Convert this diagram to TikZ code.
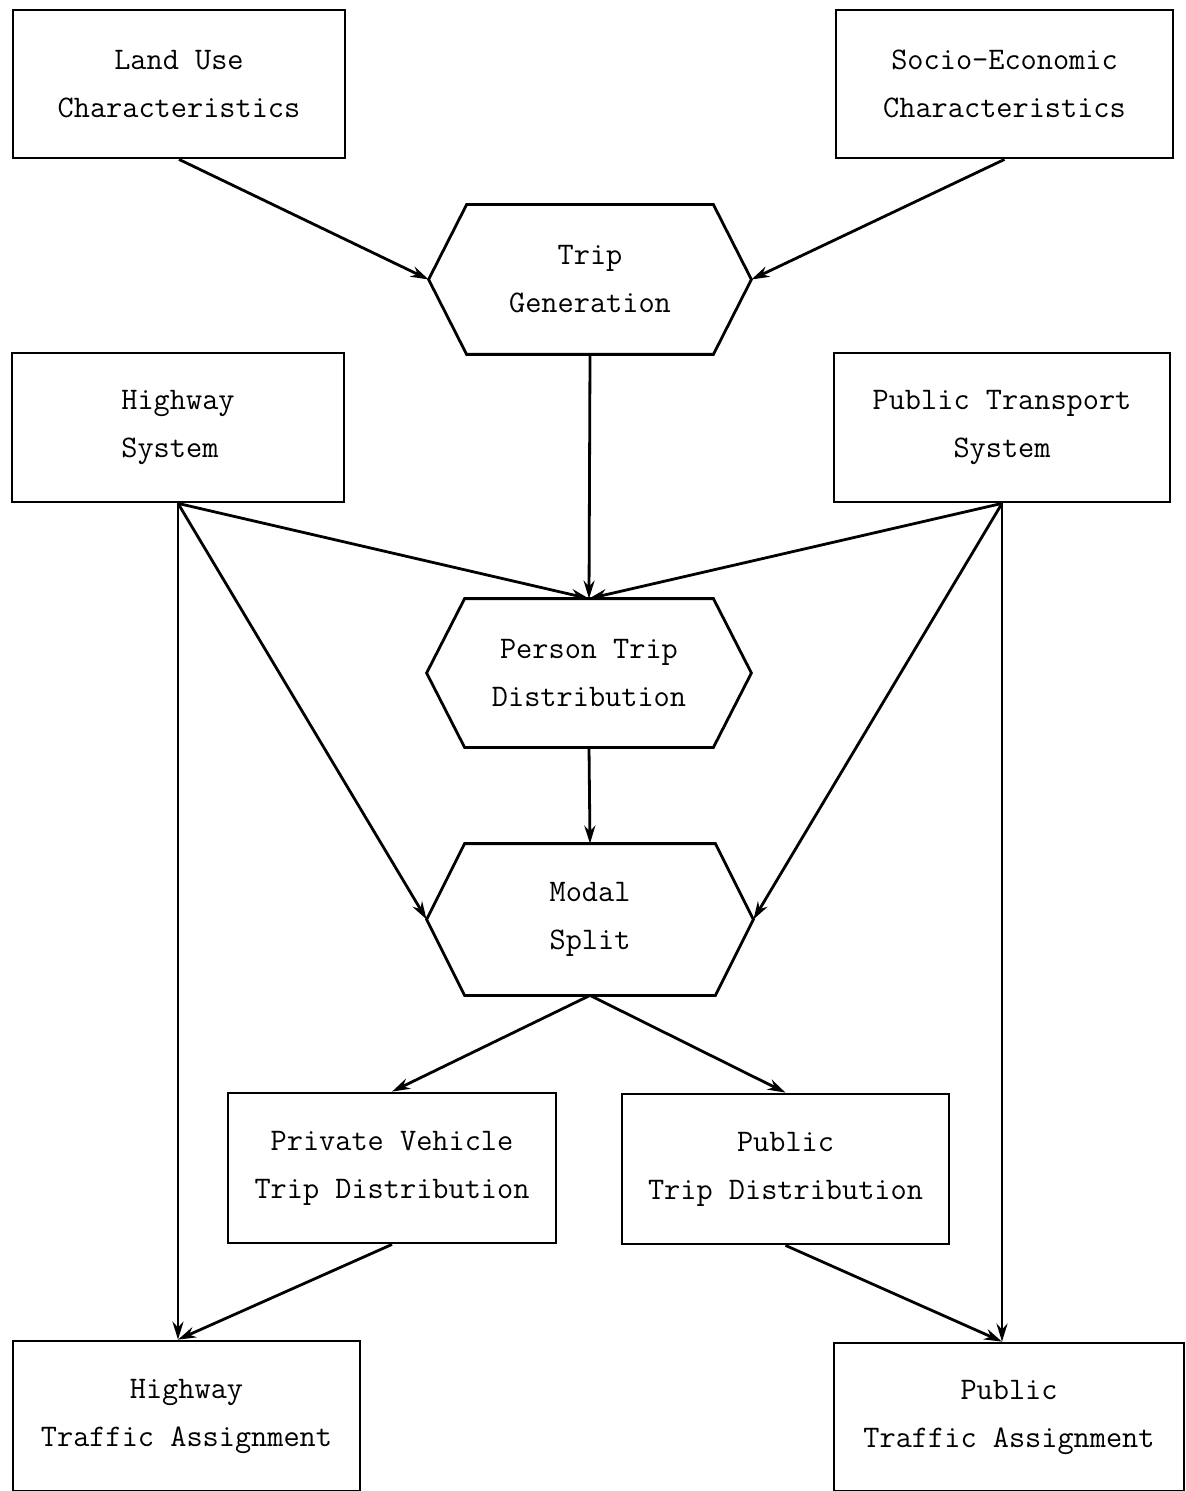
\documentclass[tikz,border=0pt]{standalone}
\usepackage{tikz}
\usetikzlibrary{arrows.meta}

\begin{document}
\begin{tikzpicture}[
   x=0.5pt, y=-0.5pt,
   line width=1.4pt,
   every node/.append style={align=center, font=\fontsize{15.7}{24}\selectfont\ttfamily},
   box/.style={draw, inner sep=0pt},
   hexbox/.style={inner sep=0pt},
   flow/.style={-{Stealth[length=9pt,width=5.5pt]}}
]
\useasboundingbox (0,0) rectangle (1186,1491);

% inputs
\node[box, minimum width=166pt, minimum height=74pt] (landuse) at (179,84) {Land Use\\Characteristics};
\node[box, minimum width=168.5pt, minimum height=74pt] (socio) at (1004.5,84) {Socio-Economic\\Characteristics};
\node[box, minimum width=166pt, minimum height=74.5pt, align=left] (highway) at (178,427.5) {Highway\\System};
\node[box, minimum width=168pt, minimum height=74.5pt] (publicsys) at (1002,427.5) {Public Transport\\System};

% model steps
\node[hexbox, minimum width=160pt, minimum height=73.5pt] (tripgen) at (590,279.5) {Trip\\Generation};
\node[hexbox, minimum width=161pt, minimum height=73pt] (persondist) at (589,673) {Person Trip\\Distribution};
\node[hexbox, minimum width=162pt, minimum height=74.5pt] (modal) at (590,919.5) {Modal\\Split};
\foreach \n in {tripgen,persondist,modal}
  \draw ([xshift=19pt]\n.north west) -- ([xshift=-19pt]\n.north east) -- (\n.east)
     -- ([xshift=-19pt]\n.south east) -- ([xshift=19pt]\n.south west) -- (\n.west) -- cycle;

\node[box, minimum width=164pt, minimum height=75pt] (privdist) at (392,1168) {Private Vehicle\\Trip Distribution};
\node[box, minimum width=163.5pt, minimum height=75pt] (pubdist) at (785.5,1169) {Public\\Trip Distribution};

% assignments
\node[box, minimum width=173.5pt, minimum height=75pt] (hwassign) at (186.5,1416) {Highway\\Traffic Assignment};
\node[box, minimum width=175pt, minimum height=74pt] (pubassign) at (1009,1417) {Public\\Traffic Assignment};
\coordinate (hwin) at (highway.south |- hwassign.north);
\coordinate (pubin) at (publicsys.south |- pubassign.north);

\draw[flow] (landuse.south) -- (tripgen.west);
\draw[flow] (socio.south) -- (tripgen.east);
\draw[flow] (tripgen.south) -- (persondist.north);
\draw[flow] (highway.south) -- (persondist.north);
\draw[flow] (publicsys.south) -- (persondist.north);
\draw[flow] (highway.south) -- (modal.west);
\draw[flow] (publicsys.south) -- (modal.east);
\draw[flow] (highway.south) -- (hwin);
\draw[flow] (publicsys.south) -- (pubin);
\draw[flow] (persondist.south) -- (modal.north);
\draw[flow] (modal.south) -- (privdist.north);
\draw[flow] (modal.south) -- (pubdist.north);
\draw[flow] (privdist.south) -- (hwin);
\draw[flow] (pubdist.south) -- (pubin);
\end{tikzpicture}
\end{document}
